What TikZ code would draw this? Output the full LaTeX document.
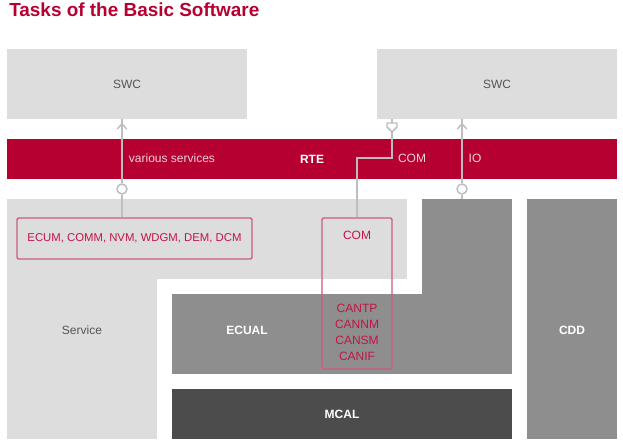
\documentclass[tikz,border=0pt]{standalone}
\usepackage{fontspec}
\setmainfont{Liberation Sans}
\usepackage{xcolor}
\usetikzlibrary{shapes.geometric, arrows.meta, positioning, calc}

\definecolor{bswRed}{RGB}{183,0,50}
\definecolor{bswLight}{RGB}{221,221,221}
\definecolor{bswMid}{RGB}{142,142,142}
\definecolor{bswDark}{RGB}{76,76,76}
\definecolor{bswLine}{RGB}{190,190,190}
\definecolor{bswFrame}{RGB}{204,92,122}
\definecolor{bswText}{RGB}{195,20,70}
\definecolor{bswLabel}{RGB}{85,85,85}
\definecolor{rteText}{RGB}{238,210,218}

\newcommand{\px}{0.75pt}

\begin{document}
\begin{tikzpicture}[
    x=0.75pt, y=-0.75pt,
    block/.style={draw=none, rectangle, inner sep=0pt, font=\fontsize{9}{11}\selectfont},
    light/.style={block, fill=bswLight, text=bswLabel},
    mid/.style={block, fill=bswMid, text=white, font=\fontsize{9}{11}\selectfont\bfseries},
    frame/.style={draw=bswFrame, line width=1.1pt, rounded corners=1pt, rectangle, inner sep=0pt,
                  text=bswText, font=\fontsize{9}{11}\selectfont},
    lbl/.style={inner sep=0pt, font=\fontsize{9}{11}\selectfont},
    conn/.style={draw=bswLine, line width=1.3pt},
    port/.style={circle, draw=bswLine, line width=1.1pt, fill=white, minimum size=10*\px, inner sep=0pt}
]
\useasboundingbox (0,0) rectangle (623,447);

\node[anchor=base west, inner sep=0pt, text=bswRed, font=\fontsize{14.2}{17}\selectfont\bfseries] (title) at (9,16) {Tasks of the Basic Software};

% application layer
\node[light, minimum width=240*\px, minimum height=70*\px] (swcL) at (127,84) {SWC};
\node[light, minimum width=240*\px, minimum height=70*\px] (swcR) at (497,84) {SWC};

% runtime environment
\node[block, fill=bswRed, text=white, font=\fontsize{9}{11}\selectfont\bfseries,
      minimum width=610*\px, minimum height=40*\px] (rte) at (312,159) {RTE};

% basic software
\node[light, minimum width=400*\px, minimum height=80*\px] (servTop) at (207,239) {};
\node[light, minimum width=150*\px, minimum height=240*\px] (servLeft) at (82,319) {};
\node[lbl, text=bswLabel] (servLbl) at (82,330) {Service};

\node[mid, minimum width=90*\px, minimum height=175*\px] (ecualTop) at (467,286.5) {};
\node[mid, minimum width=340*\px, minimum height=80*\px] (ecualBase) at (342,334) {};
\node[lbl, text=white, font=\fontsize{9}{11}\selectfont\bfseries] (ecualLbl) at (247,330) {ECUAL};

\node[mid, minimum width=90*\px, minimum height=240*\px] (cdd) at (572,319) {};
\node[lbl, text=white, font=\fontsize{9}{11}\selectfont\bfseries] (cddLbl) at (572,330) {CDD};

\node[block, fill=bswDark, text=white, font=\fontsize{9}{11}\selectfont\bfseries,
      minimum width=340*\px, minimum height=50*\px] (mcal) at (342,414) {MCAL};

% modules
\node[frame, minimum width=235*\px, minimum height=41*\px, font=\fontsize{8.5}{11}\selectfont] (ecum) at (134.5,238.5) {ECUM, COMM, NVM, WDGM, DEM, DCM};
\node[frame, minimum width=70*\px, minimum height=151*\px] (comBox) at (357,293.5) {};
\node[lbl, text=bswText] (comLbl) at (357,235) {COM};
\node[lbl, text=bswText, align=center, font=\fontsize{9}{12}\selectfont] (canLbl) at (357,332) {CANTP\\CANNM\\CANSM\\CANIF};

% interfaces
\node[port] (svcPort) at (122,189) {};
\node[port] (ioPort) at (462,189) {};
\coordinate (comTip) at (392,132);

\draw[conn] (svcPort) -- (svcPort |- ecum.north);
\draw[conn] (svcPort) -- (svcPort |- swcL.south);
\draw[conn, line width=1.1pt, line cap=round, line join=round] ([shift={(-4.5,9.5)}]svcPort |- swcL.south) -- ++(4.5,-5) -- ++(4.5,5);

\draw[conn] (ioPort) -- (ioPort |- ecualTop.north);
\draw[conn] (ioPort) -- (ioPort |- swcR.south);
\draw[conn, line width=1.1pt, line cap=round, line join=round] ([shift={(-4.5,9.5)}]ioPort |- swcR.south) -- ++(4.5,-5) -- ++(4.5,5);

\draw[conn] (comBox.north) -- ++(0,-59) -| (comTip);
\draw[conn] (comTip |- swcR.south) -- ++(0,4);
\draw[draw=bswLine, line width=1.1pt, fill=white, line join=round] (comTip) -- ++(-5,-5) -- ++(0,-4) -- ++(10,0) -- ++(0,4) -- cycle;

\node[lbl, text=rteText] (svcText) at (172,158) {various services};
\node[lbl, text=rteText] (comText) at (412,158) {COM};
\node[lbl, text=rteText] (ioText) at (475,158) {IO};
\end{tikzpicture}
\end{document}
